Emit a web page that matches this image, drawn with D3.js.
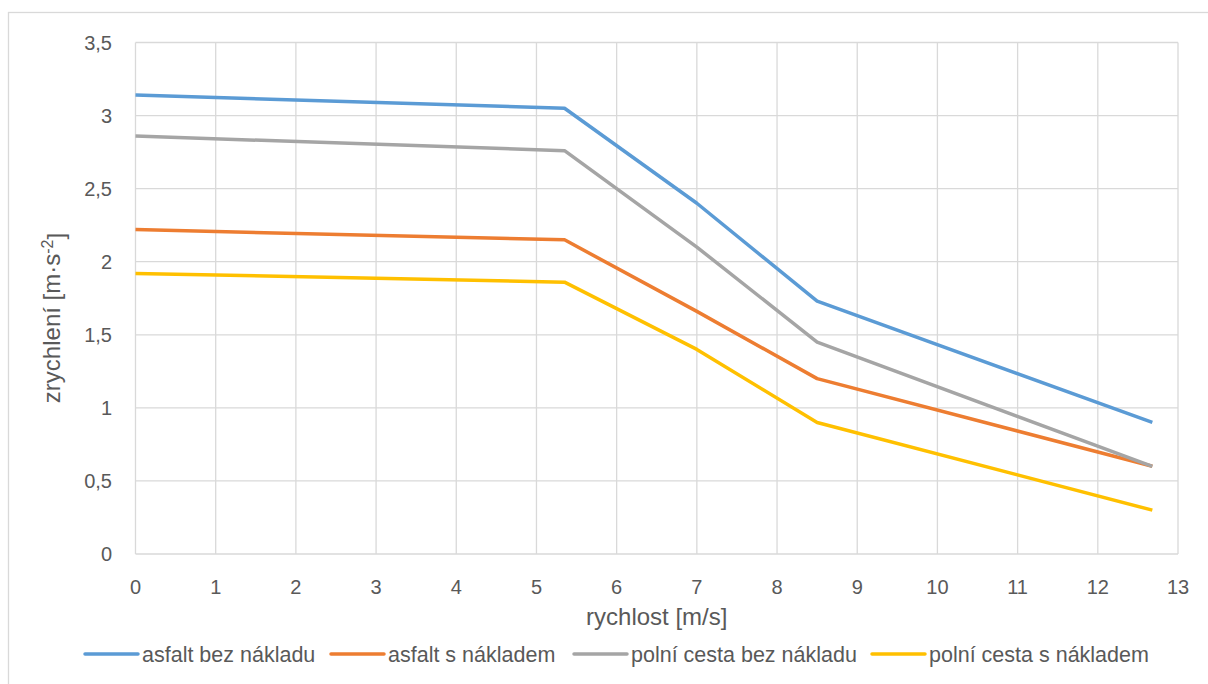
<!DOCTYPE html>
<meta charset="utf-8">
<style>
body { margin: 0; background: #fff; }
svg { font-family: "Liberation Sans", Arial, sans-serif; }
.grid line { stroke: #d9d9d9; stroke-width: 1.3px; }
.tick-label { fill: #595959; font-size: 20px; }
.axis-title { fill: #595959; font-size: 24px; }
.legend-label { fill: #595959; font-size: 21.5px; }
.series { fill: none; stroke-width: 3.5px; stroke-linejoin: round; }
</style>
<svg width="1208" height="684"></svg>
<script src="https://d3js.org/d3.v7.min.js"></script>
<script>

// speed [m/s]
var speeds = [0, 5.35, 7, 8.5, 12.68];

var seriesNames = ["asfalt bez nákladu", "asfalt s nákladem", "polní cesta bez nákladu", "polní cesta s nákladem"];
var seriesColors = ["#5b9bd5", "#ed7d31", "#a5a5a5", "#ffc000"];

// acceleration [m/s^2]
var asfaltBez = [3.14, 3.05, 2.40, 1.73, 0.90];
var asfaltS = [2.22, 2.15, 1.66, 1.20, 0.60];
var polniBez = [2.86, 2.76, 2.10, 1.45, 0.60];
var polniS = [1.92, 1.86, 1.40, 0.90, 0.30];

var xTicks = d3.range(0, 14, 1);
var yTicks = [0, 0.5, 1, 1.5, 2, 2.5, 3, 3.5];

var svg = d3.select("svg");

var margin = {left: 135.5, right: 1178, top: 42.5, bottom: 554};

var x = d3.scaleLinear().domain([0, 13]).range([margin.left, margin.right]);
var y = d3.scaleLinear().domain([0, 3.5]).range([margin.bottom, margin.top]);

var fmt = function(d) { return String(d).replace(".", ","); };

// outer chart border
svg.append("rect")
    .attr("x", 8.5).attr("y", 12.5)
    .attr("width", 1240).attr("height", 700)
    .attr("fill", "none")
    .attr("stroke", "#d9d9d9")
    .attr("stroke-width", 1.3);

var grid = svg.append("g").attr("class", "grid");

grid.selectAll("line.h")
    .data(yTicks)
  .enter().append("line")
    .attr("class", "h")
    .attr("x1", margin.left).attr("x2", margin.right)
    .attr("y1", function(d) { return y(d); })
    .attr("y2", function(d) { return y(d); });

grid.selectAll("line.v")
    .data(xTicks)
  .enter().append("line")
    .attr("class", "v")
    .attr("x1", function(d) { return x(d); })
    .attr("x2", function(d) { return x(d); })
    .attr("y1", margin.top).attr("y2", margin.bottom);

// tick labels
svg.selectAll("text.ylab")
    .data(yTicks)
  .enter().append("text")
    .attr("class", "tick-label")
    .attr("x", 112)
    .attr("y", function(d) { return y(d); })
    .attr("dy", "0.35em")
    .attr("text-anchor", "end")
    .text(fmt);

svg.selectAll("text.xlab")
    .data(xTicks)
  .enter().append("text")
    .attr("class", "tick-label")
    .attr("x", function(d) { return x(d); })
    .attr("y", 587)
    .attr("dy", "0.35em")
    .attr("text-anchor", "middle")
    .text(fmt);

// axis titles
svg.append("text")
    .attr("class", "axis-title")
    .attr("x", (margin.left + margin.right) / 2)
    .attr("y", 617)
    .attr("dy", "0.35em")
    .attr("text-anchor", "middle")
    .text("rychlost [m/s]");

var yt = svg.append("text")
    .attr("class", "axis-title")
    .attr("transform", "translate(52,318) rotate(-90)")
    .attr("dy", "0.35em")
    .attr("text-anchor", "middle");
yt.append("tspan").text("zrychlení [m·s");
yt.append("tspan").attr("dy", "-0.45em").attr("font-size", "16px").text("-2");
yt.append("tspan").attr("dy", "0.45em").text("]");

// series lines
var allSeries = [asfaltBez, asfaltS, polniBez, polniS];

var line = d3.line()
    .x(function(d, i) { return x(speeds[i]); })
    .y(function(d) { return y(d); });

svg.selectAll("path.series")
    .data(allSeries)
  .enter().append("path")
    .attr("class", "series")
    .attr("stroke", function(d, i) { return seriesColors[i]; })
    .attr("d", line);

// legend
var legendX = [85, 331, 574, 872];
var legend = svg.selectAll("g.legend")
    .data(seriesNames)
  .enter().append("g")
    .attr("class", "legend")
    .attr("transform", function(d, i) { return "translate(" + legendX[i] + ",654)"; });

legend.append("line")
    .attr("x1", 0).attr("x2", 53)
    .attr("stroke", function(d, i) { return seriesColors[i]; })
    .attr("stroke-width", 3.5)
    .attr("stroke-linecap", "round");

legend.append("text")
    .attr("class", "legend-label")
    .attr("x", 57)
    .attr("dy", "0.35em")
    .text(function(d) { return d; });

</script>
